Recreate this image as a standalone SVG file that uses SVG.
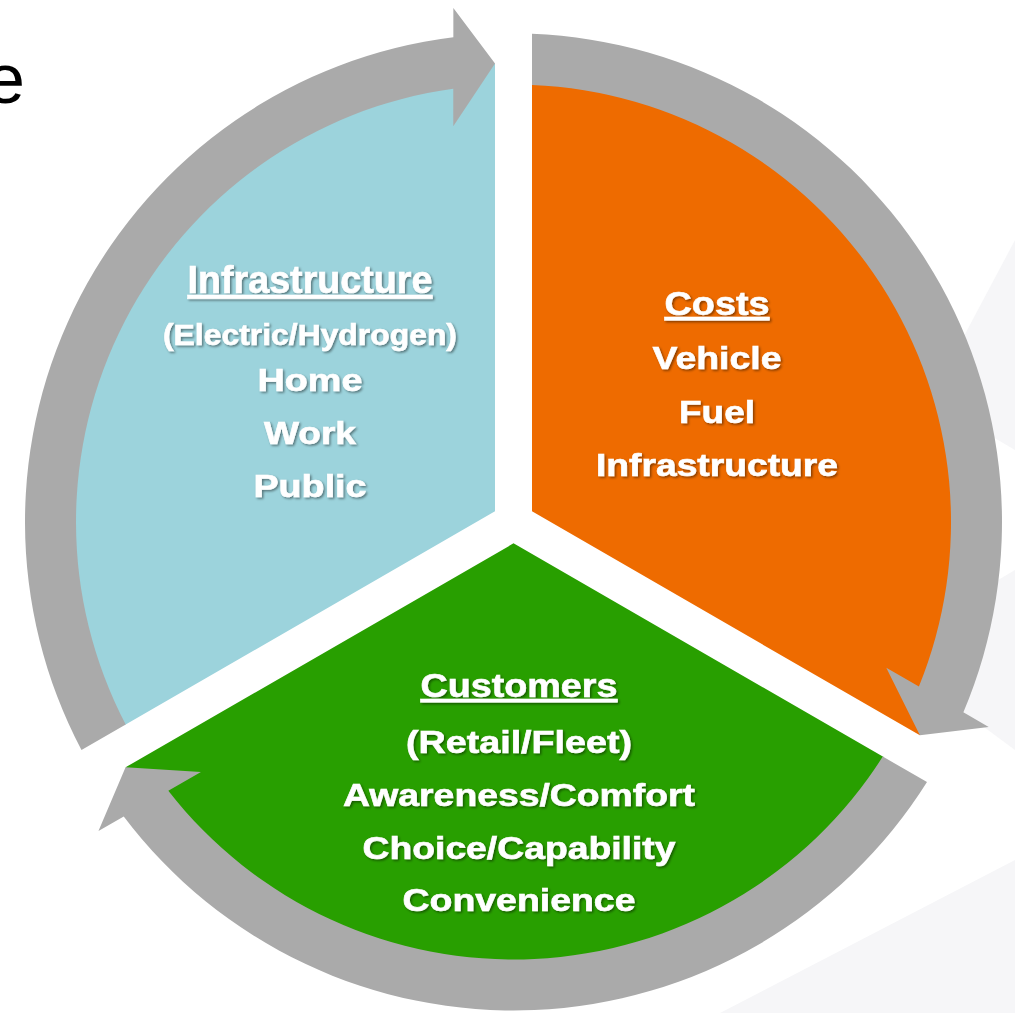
<svg xmlns="http://www.w3.org/2000/svg" width="1015" height="1013" viewBox="0 0 1015 1013">
<defs>
<filter id="sh" x="-10%" y="-30%" width="120%" height="160%"><feDropShadow dx="1.5" dy="1.5" stdDeviation="1" flood-color="#000" flood-opacity="0.45"/></filter>
<path id="sector" d="M 18.5,-10.68 L 18.5,-438.61 A 439 439 0 0 1 412.53,150.15 L 406.4,213.3 Z"/>
<path id="arrow" d="M 18.5,-488.15 A 488.5 488.5 0 0 1 449.9,190.3 L 475.2,204.9 L 406.4,213.3 L 372.8,145.7 L 405.4,164.5 A 437.5 437.5 0 0 0 18.5,-437.1 Z"/>
</defs>
<style>
.lbl{font-family:"Liberation Sans",Arial,sans-serif;font-weight:bold;fill:#ffffff;stroke:#ffffff;stroke-width:0.6;text-anchor:middle;filter:url(#sh)}
.ul{text-decoration:underline}
.arr{fill:#aaaaaa}
.bg{fill:#f6f6f8}
</style>
<rect width="1015" height="1013" fill="#ffffff"/>
<g id="background">
<polygon class="bg" points="1015,240 930,400 1015,450"/>
<polygon class="bg" points="1015,570 880,650 1015,750"/>
<polygon class="bg" points="1015,860 720,1013 1015,1013"/>
</g>
<text x="-14.5" y="102.5" font-family="Liberation Sans, Arial, sans-serif" font-size="71" fill="#000000">e</text>
<g id="node-infrastructure">
<use href="#sector" fill="#9cd3dc" transform="translate(513.5,522) rotate(240)"/>
<text class="lbl ul" x="310" y="293" font-size="38" textLength="245" lengthAdjust="spacingAndGlyphs">Infrastructure</text>
<text class="lbl" x="310" y="345" font-size="29.5" textLength="294" lengthAdjust="spacingAndGlyphs">(Electric/Hydrogen)</text>
<text class="lbl" x="310" y="391" font-size="31" textLength="105" lengthAdjust="spacingAndGlyphs">Home</text>
<text class="lbl" x="310" y="444" font-size="31" textLength="92" lengthAdjust="spacingAndGlyphs">Work</text>
<text class="lbl" x="310" y="497" font-size="31" textLength="113" lengthAdjust="spacingAndGlyphs">Public</text>
</g>
<g id="node-costs">
<use href="#sector" fill="#ee6b00" transform="translate(513.5,522)"/>
<text class="lbl ul" x="717" y="315" font-size="33" textLength="105" lengthAdjust="spacingAndGlyphs">Costs</text>
<text class="lbl" x="717" y="369" font-size="32" textLength="129" lengthAdjust="spacingAndGlyphs">Vehicle</text>
<text class="lbl" x="717" y="423" font-size="32" textLength="76" lengthAdjust="spacingAndGlyphs">Fuel</text>
<text class="lbl" x="717" y="476" font-size="31" textLength="242" lengthAdjust="spacingAndGlyphs">Infrastructure</text>
</g>
<g id="node-customers">
<use href="#sector" fill="#289f00" transform="translate(513.5,522) rotate(120)"/>
<text class="lbl ul" x="519" y="697" font-size="32.5" textLength="197" lengthAdjust="spacingAndGlyphs">Customers</text>
<text class="lbl" x="519" y="752.5" font-size="31" textLength="226" lengthAdjust="spacingAndGlyphs">(Retail/Fleet)</text>
<text class="lbl" x="519" y="806" font-size="31" textLength="352" lengthAdjust="spacingAndGlyphs">Awareness/Comfort</text>
<text class="lbl" x="519" y="858.5" font-size="31" textLength="313" lengthAdjust="spacingAndGlyphs">Choice/Capability</text>
<text class="lbl" x="519" y="910.5" font-size="31" textLength="233" lengthAdjust="spacingAndGlyphs">Convenience</text>
</g>
<g id="connectors">
<use href="#arrow" class="arr" transform="translate(513.5,522) rotate(240)"/>
<use href="#arrow" class="arr" transform="translate(513.5,522)"/>
<use href="#arrow" class="arr" transform="translate(513.5,522) rotate(120)"/>
</g>
</svg>
